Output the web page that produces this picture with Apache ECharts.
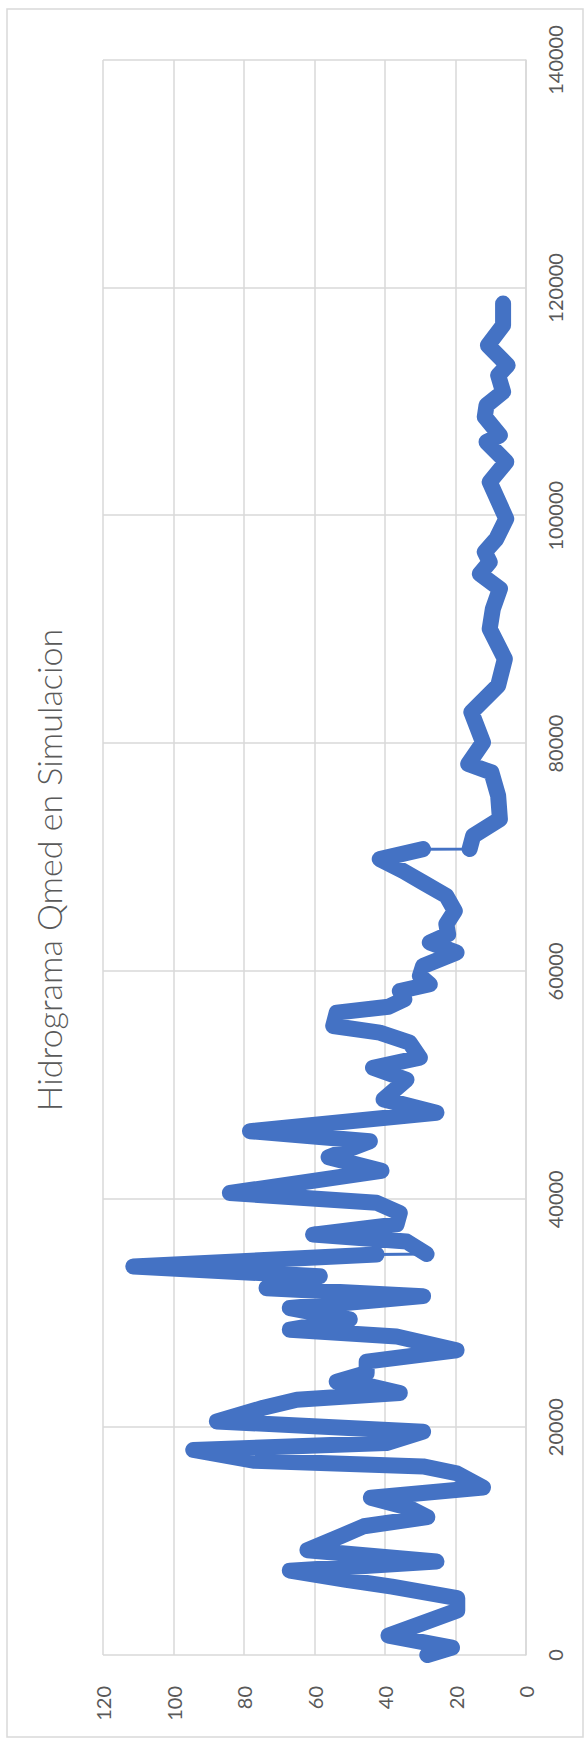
<!DOCTYPE html>
<html>
<head>
<meta charset="utf-8">
<title>Hidrograma Qmed en Simulacion</title>
<script src="https://cdn.jsdelivr.net/npm/echarts@6/dist/echarts.min.js"></script>
<style>
  html, body { margin: 0; padding: 0; background: #fff; overflow: hidden; }
  body { width: 584px; height: 1740px; position: relative; }
  /* el gráfico se dibuja apaisado (1740x584) y se gira 90° a la izquierda */
  #chart {
    position: absolute;
    left: 0;
    top: 0;
    width: 1740px;
    height: 584px;
    transform-origin: 0 0;
    transform: translateY(1740px) rotate(-90deg);
  }
</style>
</head>
<body>
<div id="chart"></div>
<script>
// tiempo de simulación (eje X)
const tiempo = [
  0, 650, 1700, 3900, 5000, 6000, 6600, 7400, 8200, 9200,
  10500, 11300, 12100, 12900, 13800, 14700, 15950, 16550, 17050, 18000,
  18600, 19600, 20500, 21700, 22400, 23000, 23550, 24000, 24750, 25750,
  26750, 27950, 28550, 29450, 30450, 31500, 32200, 33250, 34100, 35150,
  35200, 36300, 36900, 37800, 38800, 39700, 40550, 42500, 43700, 45100,
  45980, 47600, 48770, 50500, 51550, 52430, 53750, 54630, 55210, 56385,
  56900, 57550, 58285, 58870, 59600, 60480, 61660, 62540, 63270, 64150,
  65315, 66630, 67810, 68830, 69860, 70735,
  70740, 71900, 73370, 75420, 77470, 78200, 80100, 82750, 85100, 87430,
  90070, 91830, 93580, 94900, 95930, 96810, 97970, 99730, 102960, 104720,
  106470, 107060, 108670, 109690, 110870, 112330, 113200, 114960, 116720, 118620
]

// caudal medio Qmed
const qmed = [
  28, 21, 39, 19.5, 19.5, 38, 51, 67, 25.4, 62,
  52, 46, 28, 33, 44, 12.2, 19.7, 29.2, 77, 94.4,
  39.6, 29.2, 87.7, 74.5, 65, 35.8, 43.4, 53.7, 45.2, 45.2,
  19.7, 36.7, 67, 50, 67, 29.2, 73.6, 58.5, 111.4, 42.4,
  28.2, 33.9, 60.4, 36.7, 35.8, 42.4, 84, 41, 56, 44.3,
  78.3, 25.4, 40.4, 33.9, 43.4, 30.1, 33, 41.5, 54.7, 53.7,
  39, 34.5, 35.8, 27.3, 30.1, 29.2, 19.7, 27.3, 22.1, 22.6,
  20.2, 22.6, 29.2, 34.9, 41.5, 29.2,
  16, 15, 7.4, 7.9, 9.8, 16.4, 12.2, 15.5, 7.9, 6.0,
  10.3, 9.4, 7.4, 13.1, 10.3, 11.7, 8.4, 5.6, 10.3, 5.6,
  11.2, 7.4, 11.7, 11.2, 6.5, 7.9, 5.2, 10.8, 6.5, 6.5
]

// instantes donde el caudal salta (solo queda la línea fina)
const saltos = [35200, 70740]

// marcas de los ejes
const ticksTiempo = [0, 20000, 40000, 60000, 80000, 100000, 120000, 140000]
const ticksQ = [0, 20, 40, 60, 80, 100, 120]

const fuente = 'Lato, "Open Sans", sans-serif'
const gris = '#595959'
const rejilla = '#d9d9d9'
const azul = '#4472c4'

const puntos = tiempo.map((t, i) => [t, qmed[i]])

// trazo grueso: se corta en los saltos
const trazoGrueso = []
puntos.forEach((p, i) => {
  if (saltos.includes(tiempo[i])) {
    trazoGrueso.push([tiempo[i], '-'])
  }
  trazoGrueso.push(p)
})

const chart = echarts.init(document.getElementById('chart'), null, { renderer: 'svg' })

chart.setOption({
  animation: false,
  backgroundColor: '#ffffff',
  title: {
    text: 'Hidrograma Qmed en Simulacion',
    left: 'center',
    top: 31,
    padding: [0, 0, 0, 36],
    textStyle: {
      fontFamily: fuente,
      fontSize: 34,
      fontWeight: 300,
      color: gris
    }
  },
  graphic: [{
    type: 'rect',
    shape: { x: 3, y: 7, width: 1728, height: 576 },
    style: { fill: null, stroke: rejilla, lineWidth: 1.5 },
    silent: true
  }],
  grid: {
    left: 85,
    right: 60,
    top: 103,
    bottom: 58
  },
  xAxis: {
    type: 'value',
    min: ticksTiempo[0],
    max: ticksTiempo[ticksTiempo.length - 1],
    interval: ticksTiempo[1] - ticksTiempo[0],
    axisLine: { show: true, lineStyle: { color: rejilla, width: 1.5 } },
    axisTick: { show: false },
    splitLine: { show: true, lineStyle: { color: rejilla, width: 1.5 } },
    axisLabel: {
      margin: 19,
      color: gris,
      fontSize: 20,
      fontFamily: fuente,
      formatter: (v) => String(v)
    }
  },
  yAxis: {
    type: 'value',
    min: ticksQ[0],
    max: ticksQ[ticksQ.length - 1],
    interval: ticksQ[1] - ticksQ[0],
    axisLine: { show: false },
    axisTick: { show: false },
    splitLine: { show: true, lineStyle: { color: rejilla, width: 1.5 } },
    axisLabel: {
      margin: 31,
      color: gris,
      fontSize: 20,
      fontFamily: fuente,
      formatter: (v) => String(v)
    }
  },
  series: [
    {
      // línea fina entre puntos
      name: 'Qmed',
      type: 'line',
      data: puntos,
      showSymbol: false,
      z: 2,
      lineStyle: { color: azul, width: 3 }
    },
    {
      // marcadores solapados -> trazo grueso
      name: 'Qmed marcadores',
      type: 'line',
      data: trazoGrueso,
      showSymbol: false,
      connectNulls: false,
      z: 3,
      lineStyle: { color: azul, width: 16, cap: 'round', join: 'round' }
    }
  ]
})
</script>
</body>
</html>
